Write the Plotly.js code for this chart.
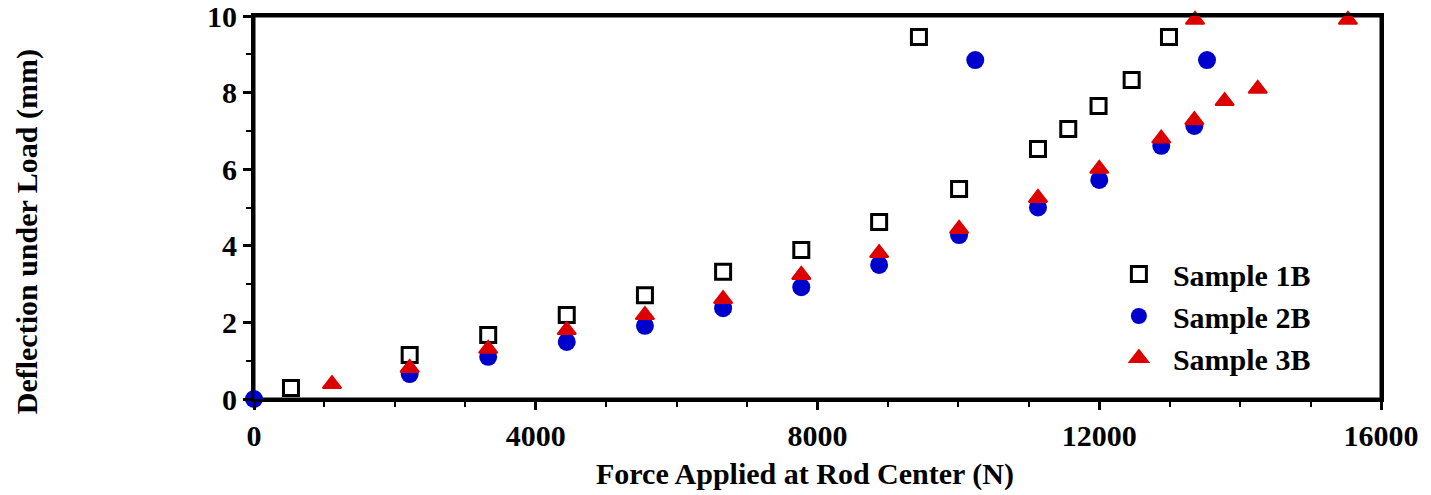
<!DOCTYPE html>
<html>
<head>
<meta charset="utf-8">
<script src="https://cdn.plot.ly/plotly-3.0.1.min.js"></script>
<style>html,body{margin:0;padding:0;background:#fff;}#chart{width:1431px;height:495px;}</style>
</head>
<body>
<div id="chart"></div>
<script>
// Force applied (N) and deflection (mm)
const sample1B_x = [525, 2210, 3325, 4440, 5550, 6660, 7770, 8875, 10010, 11130, 11560, 11990, 12460, 12990, 9440];
const sample1B_y = [0.29, 1.15, 1.67, 2.19, 2.71, 3.32, 3.89, 4.62, 5.48, 6.53, 7.05, 7.65, 8.33, 9.45, 9.45];

const sample2B_x = [0, 2210, 3325, 4440, 5550, 6660, 7770, 8875, 10010, 11130, 12000, 12880, 13350, 13530, 10240];
const sample2B_y = [0, 0.65, 1.10, 1.49, 1.91, 2.37, 2.92, 3.50, 4.28, 5.00, 5.72, 6.61, 7.13, 8.85, 8.85];

const sample3B_x = [1107, 2210, 3325, 4440, 5550, 6660, 7770, 8875, 10010, 11130, 12000, 12880, 13350, 13780, 14250, 13360, 15530];
const sample3B_y = [0.39, 0.81, 1.31, 1.80, 2.19, 2.61, 3.24, 3.81, 4.44, 5.25, 6.01, 6.80, 7.28, 7.78, 8.10, 9.90, 9.90];

const seriesNames = ["Sample 1B", "Sample 2B", "Sample 3B"];
const xTitle = "Force Applied at Rod Center (N)";
const yTitle = "Deflection under Load (mm)";

const FONT = "'Liberation Serif', 'Times New Roman', Times, serif";
const BLUE = "#0000cc";
const RED = "#dd0000";

const traces = [
  {x: sample1B_x, y: sample1B_y, name: seriesNames[0], type: "scatter", mode: "markers", cliponaxis: false,
   marker: {symbol: "square-open", size: 15, color: "#000000", line: {width: 3, color: "#000000"}}},
  {x: sample2B_x, y: sample2B_y, name: seriesNames[1], type: "scatter", mode: "markers", cliponaxis: false,
   marker: {symbol: "circle", size: 18, color: BLUE, line: {width: 0}}},
  {x: sample3B_x, y: sample3B_y, name: seriesNames[2], type: "scatter", mode: "markers", cliponaxis: false,
   marker: {symbol: "triangle-up", size: 16, color: RED, line: {width: 2, color: RED}}}
];

const tickFont = {family: FONT, size: 30, color: "#000", weight: "bold"};

const layout = {
  width: 1431, height: 495,
  margin: {l: 254, r: 50, t: 16, b: 96, pad: 0},
  paper_bgcolor: "#fff", plot_bgcolor: "#fff",
  font: {family: FONT, color: "#000"},
  showlegend: true,
  legend: {x: 0.755, xanchor: "left", y: 0.3942, yanchor: "top", bgcolor: "rgba(0,0,0,0)",
           font: {family: FONT, size: 30, color: "#000", weight: "bold"}, itemwidth: 58, borderwidth: 0},
  xaxis: {range: [0, 16000], dtick: 4000, tick0: 0, tickformat: "d", showgrid: false, zeroline: false,
          showline: true, linewidth: 3, linecolor: "#000", mirror: true,
          ticks: "outside", ticklen: 8, tickwidth: 3, tickcolor: "#000", ticklabeloverflow: "allow",
          minor: {dtick: 1000, ticks: "outside", ticklen: 5, tickwidth: 2, tickcolor: "#000", showgrid: false},
          tickfont: tickFont, fixedrange: true},
  yaxis: {range: [0, 10], dtick: 2, tick0: 0, showgrid: false, zeroline: false,
          showline: true, linewidth: 3, linecolor: "#000", mirror: true,
          ticks: "outside", ticklen: 8, tickwidth: 3, tickcolor: "#000", ticklabeloverflow: "allow",
          minor: {dtick: 1, ticks: "outside", ticklen: 5, tickwidth: 2, tickcolor: "#000", showgrid: false},
          tickfont: tickFont, fixedrange: true},
  shapes: [
    {type: "rect", xref: "paper", yref: "paper", x0: 0, x1: 1, y0: 0, y1: 1,
     line: {color: "#000", width: 3}, fillcolor: "rgba(0,0,0,0)", layer: "below"}
  ],
  annotations: [
    {text: xTitle, xref: "paper", yref: "paper", x: 0.4885, y: -0.196, xanchor: "center", yanchor: "middle",
     showarrow: false, font: {family: FONT, size: 30, color: "#000", weight: "bold"}},
    {text: yTitle, xref: "paper", yref: "paper", x: -0.2012, y: 0.436, xanchor: "center", yanchor: "middle",
     textangle: -90, showarrow: false, font: {family: FONT, size: 30, color: "#000", weight: "bold"}}
  ]
};

Plotly.newPlot("chart", traces, layout, {displayModeBar: false, staticPlot: true});
</script>
</body>
</html>
